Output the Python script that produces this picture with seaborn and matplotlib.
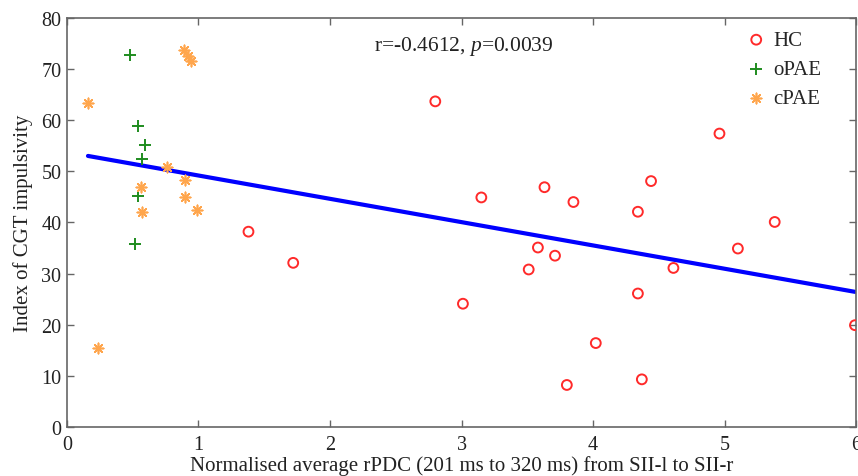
import matplotlib
matplotlib.use("Agg")
import matplotlib.pyplot as plt
import numpy as np
import pandas as pd
import seaborn as sns

# HC group (red circles)
hc_x = [1.38, 1.72, 2.80, 3.01, 3.15, 3.51, 3.58, 3.63, 3.71, 3.80, 3.85,
        4.02, 4.34, 4.34, 4.37, 4.44, 4.61, 4.96, 5.10, 5.38, 5.99]
hc_y = [38.2, 32.1, 63.7, 24.1, 44.9, 30.8, 35.1, 46.9, 33.5, 8.2, 44.0,
        16.4, 42.1, 26.1, 9.3, 48.1, 31.1, 57.4, 34.9, 40.1, 19.9]

# oPAE group (green plus)
opae_x = [0.48, 0.54, 0.59, 0.57, 0.54, 0.52]
opae_y = [72.8, 58.9, 55.2, 52.4, 45.2, 35.7]

# cPAE group (orange asterisk)
cpae_x = [0.16, 0.89, 0.92, 0.94, 0.76, 0.90, 0.56, 0.90, 0.99, 0.57, 0.24]
cpae_y = [63.3, 73.7, 72.6, 71.6, 50.9, 48.3, 47.0, 45.0, 42.5, 42.0, 15.4]

x_ticks = [0, 1, 2, 3, 4, 5, 6]
y_ticks = [0, 10, 20, 30, 40, 50, 60, 70, 80]
annot_text = "r=-0.4612, $p$=0.0039"

df = pd.concat([
    pd.DataFrame({"x": hc_x, "y": hc_y, "group": "HC"}),
    pd.DataFrame({"x": opae_x, "y": opae_y, "group": "oPAE"}),
    pd.DataFrame({"x": cpae_x, "y": cpae_y, "group": "cPAE"}),
], ignore_index=True)

sns.set_style("ticks")
plt.rcParams["font.family"] = ["Liberation Serif", "DejaVu Serif"]
plt.rcParams["mathtext.fontset"] = "custom"
plt.rcParams["mathtext.it"] = "Liberation Serif:italic"
plt.rcParams["mathtext.rm"] = "Liberation Serif"

fig = plt.figure(figsize=(8.58, 4.77), dpi=100)
ax = fig.add_axes([0.078, 0.103, 0.92, 0.857])

# fitted line over all subjects
sns.regplot(data=df, x="x", y="y", scatter=False, ci=None, ax=ax,
            line_kws={"color": "#0000ff", "linewidth": 3})

hc = df[df["group"] == "HC"]
sns.scatterplot(data=hc, x="x", y="y", ax=ax, marker="o", s=50,
                facecolor="none", edgecolor="#ff2a2a", linewidth=1.4,
                label="HC", zorder=3)
op = df[df["group"] == "oPAE"]
sns.scatterplot(data=op, x="x", y="y", ax=ax, marker="+", s=70,
                color="#1e8c1e", linewidth=1.4, label="oPAE", zorder=3)
cp = df[df["group"] == "cPAE"]
sns.scatterplot(data=cp, x="x", y="y", ax=ax, marker=(8, 2, 0), s=55,
                color="#ffa64d", linewidth=1.2, label="cPAE", zorder=3)

ax.set_xlim(0, 6)
ax.set_ylim(0, 80)
ax.set_xticks(x_ticks)
ax.set_yticks(y_ticks)
ax.tick_params(direction="in", length=5, width=1, color="#666666",
               labelsize=14.5, top=True, right=True, labelcolor="#222222")
ax.tick_params(axis="x", pad=6)
ax.tick_params(axis="y", pad=4)
for sp in ax.spines.values():
    sp.set_visible(True)
    sp.set_color("#666666")
    sp.set_linewidth(1.2)

ax.set_xlabel("Normalised average rPDC (201 ms to 320 ms) from SII-l to SII-r",
              fontsize=15, color="#222222", labelpad=1)
ax.set_ylabel("Index of CGT impulsivity", fontsize=15, color="#222222", labelpad=6)

ax.text(0.503, 0.933, annot_text, transform=ax.transAxes, ha="center", va="center",
        fontsize=15.5, color="#222222")

leg = ax.legend(loc="upper right", frameon=False, fontsize=15,
                handletextpad=0.3, borderaxespad=0.2, labelspacing=0.45,
                handlelength=1.0, bbox_to_anchor=(0.971, 1.0))

fig.savefig("out.png", dpi=100)
